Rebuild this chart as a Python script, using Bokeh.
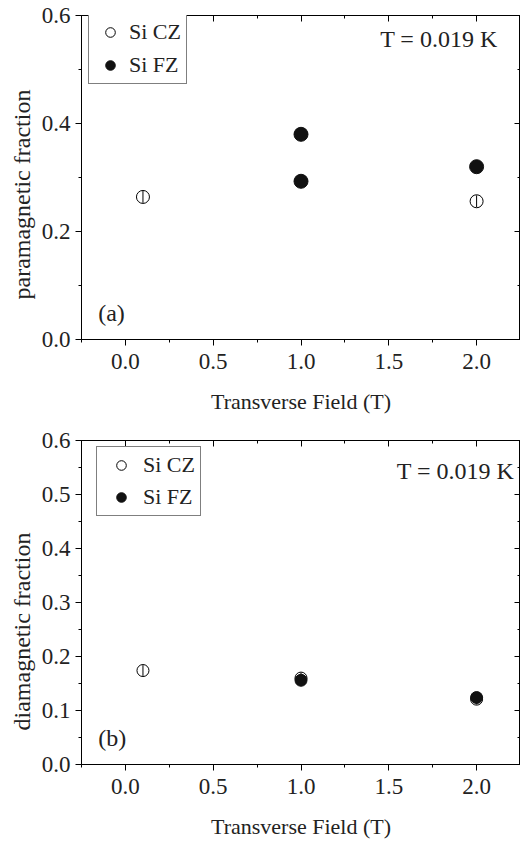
from bokeh.plotting import figure
from bokeh.layouts import column
from bokeh.models import (LinearAxis, Label, Legend, LegendItem, Range1d, Title,
                          FixedTicker, NumeralTickFormatter, CustomJSTickFormatter)
from bokeh.embed import file_html
from bokeh.resources import INLINE

# ---- data ----
field_cz_a = [0.1, 2.0]
para_cz = [0.264, 0.256]
para_cz_err = [0.011, 0.011]
field_fz_a = [1.0, 1.0, 2.0]
para_fz = [0.380, 0.293, 0.320]
para_fz_err = [0.010, 0.010, 0.010]

field_cz_b = [0.1, 1.0, 2.0]
dia_cz = [0.174, 0.160, 0.121]
dia_cz_err = [0.010, 0.010, 0.010]
field_fz_b = [1.0, 2.0]
dia_fz = [0.156, 0.124]
dia_fz_err = [0.008, 0.008]

x_major = [0.0, 0.5, 1.0, 1.5, 2.0]
x_minor = [-0.25, 0.25, 0.75, 1.25, 1.75, 2.25]
ya_major = [0.0, 0.2, 0.4, 0.6]
ya_minor = [0.1, 0.3, 0.5]
yb_major = [0.0, 0.1, 0.2, 0.3, 0.4, 0.5, 0.6]
yb_minor = [0.05, 0.15, 0.25, 0.35, 0.45, 0.55]

FONT = "Liberation Serif"
TXT = "#222222"


def style_axis(ax, outward, labels=True):
    ax.axis_line_color = "black"
    ax.axis_line_width = 1
    ax.major_tick_line_color = "black"
    ax.minor_tick_line_color = "black"
    if outward:
        ax.major_tick_out, ax.major_tick_in = 6, 0
        ax.minor_tick_out, ax.minor_tick_in = 3, 0
    else:
        ax.major_tick_out, ax.major_tick_in = 0, 6
        ax.minor_tick_out, ax.minor_tick_in = 0, 3
    ax.major_label_text_font = FONT
    ax.major_label_text_color = TXT
    ax.major_label_text_font_size = "23px"
    ax.axis_label_text_font = FONT
    ax.axis_label_text_color = TXT
    ax.axis_label_text_font_size = "22px"
    ax.axis_label_text_font_style = "normal"
    if not labels:
        ax.formatter = CustomJSTickFormatter(code="return ''")
        ax.major_label_standoff = 0


def make_panel(height, top_border, ylabel, ymaj, ymin, xa, ya, ea, xb, yb, eb,
               msize_cz, msize_fz, tag, tlabel_pos, legend_loc, leg_spacing,
               glyph_w, ylabel_offset):
    p = figure(width=520, height=height, output_backend="svg", toolbar_location=None,
               x_range=Range1d(-0.25, 2.25), y_range=Range1d(0.0, 0.6),
               min_border_left=81, min_border_right=0, min_border_top=top_border,
               min_border_bottom=81, x_axis_label="Transverse Field (T)")
    p.grid.visible = False
    p.outline_line_color = "black"
    p.outline_line_width = 1
    p.background_fill_color = "white"
    p.border_fill_color = "white"

    p.xaxis.ticker = FixedTicker(ticks=x_major, minor_ticks=x_minor)
    p.yaxis.ticker = FixedTicker(ticks=ymaj, minor_ticks=ymin)
    p.xaxis.formatter = NumeralTickFormatter(format="0.0")
    p.yaxis.formatter = NumeralTickFormatter(format="0.0")
    style_axis(p.xaxis[0], True)
    style_axis(p.yaxis[0], True)
    p.xaxis.major_label_standoff = 8
    p.xaxis.axis_label_standoff = 17
    p.yaxis.major_label_standoff = 5

    top = LinearAxis(ticker=FixedTicker(ticks=x_major, minor_ticks=x_minor))
    style_axis(top, False, labels=False)
    p.add_layout(top, "above")
    right = LinearAxis(ticker=FixedTicker(ticks=ymaj, minor_ticks=ymin))
    style_axis(right, False, labels=False)
    p.add_layout(right, "right")

    # y-axis title, placed as a side title so it can be shifted like the reference
    ytitle = Title(text=ylabel, align="left", offset=ylabel_offset,
                   text_font=FONT, text_font_size="24px", text_color=TXT,
                   text_font_style="normal", standoff=8)
    p.add_layout(ytitle, "left")

    # CZ (open) with error bars
    p.segment(x0=xa, y0=[y - e for y, e in zip(ya, ea)], x1=xa,
              y1=[y + e for y, e in zip(ya, ea)], line_color="black", line_width=1)
    cz = p.scatter(xa, ya, marker="circle", size=msize_cz, fill_color="white",
                   line_color="black", line_width=1)
    p.segment(x0=xa, y0=[y - e for y, e in zip(ya, ea)], x1=xa,
              y1=[y + e for y, e in zip(ya, ea)], line_color="black", line_width=1)
    # FZ (filled)
    p.segment(x0=xb, y0=[y - e for y, e in zip(yb, eb)], x1=xb,
              y1=[y + e for y, e in zip(yb, eb)], line_color="black", line_width=1)
    fz = p.scatter(xb, yb, marker="circle", size=msize_fz, fill_color="#111111",
                   line_color="#111111", line_width=1)

    legend = Legend(items=[LegendItem(label="Si CZ", renderers=[cz]),
                           LegendItem(label="Si FZ", renderers=[fz])],
                    location=legend_loc)
    legend.label_text_font = FONT
    legend.label_text_color = TXT
    legend.label_text_font_size = "22px"
    legend.label_text_line_height = 1.0
    legend.label_height = 24
    legend.glyph_height = 24
    legend.glyph_width = glyph_w
    legend.label_standoff = 3
    legend.spacing = leg_spacing
    legend.padding = 5
    legend.margin = 0
    legend.border_line_color = "black"
    legend.border_line_width = 1
    legend.background_fill_alpha = 1
    p.add_layout(legend)

    p.add_layout(Label(x=tlabel_pos[0], y=tlabel_pos[1], text="T = 0.019 K",
                       text_font=FONT, text_font_size="24px", text_color=TXT,
                       text_align="right", text_baseline="middle"))
    p.add_layout(Label(x=-0.155, y=0.05, text=tag, text_font=FONT,
                       text_font_size="24px", text_color=TXT,
                       text_align="left", text_baseline="middle"))
    return p


pa = make_panel(420, 15, "paramagnetic fraction", ya_major, ya_minor,
                field_cz_a, para_cz, para_cz_err, field_fz_a, para_fz, para_fz_err,
                13, 14, "(a)", (2.12, 0.556), (7, 255), 7, 32, 40)
pb = make_panel(425, 20, "diamagnetic fraction", yb_major, yb_minor,
                field_cz_b, dia_cz, dia_cz_err, field_fz_b, dia_fz, dia_fz_err,
                12, 12, "(b)", (2.215, 0.544), (15, 248), 6, 38, 34)

layout = column(pa, pb, spacing=0)
open("out.html", "w").write(file_html(layout, INLINE))
